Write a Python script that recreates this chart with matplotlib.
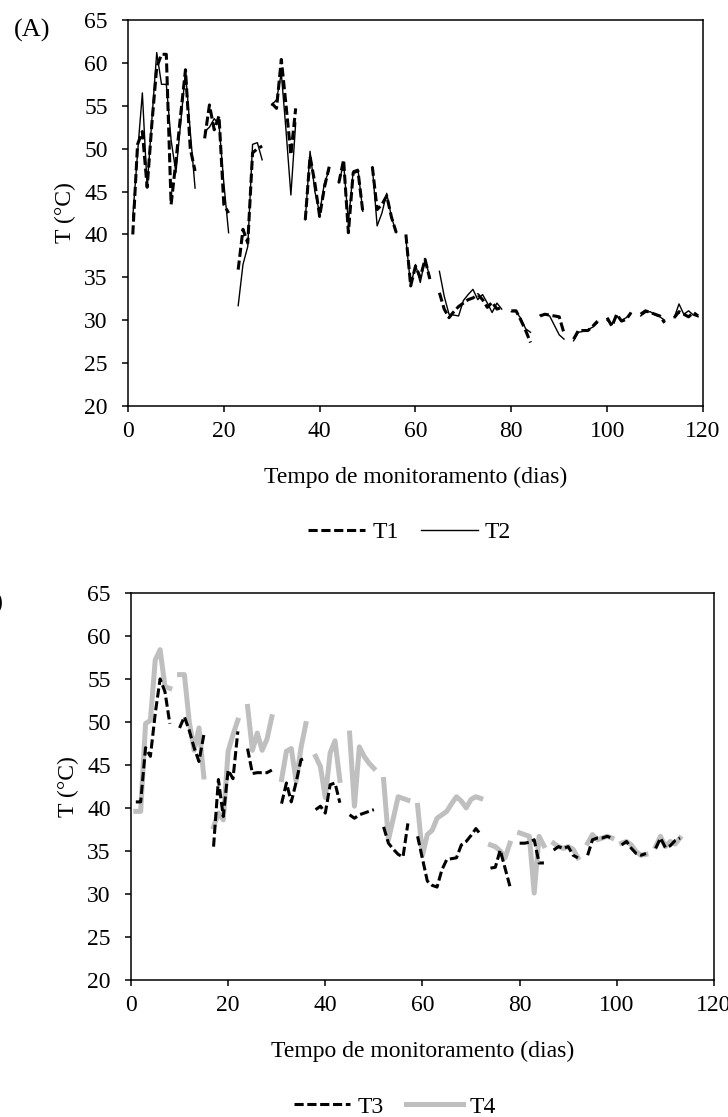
import numpy as np
import matplotlib
matplotlib.use("Agg")
import matplotlib.pyplot as plt

nan = np.nan

# Panel A - daily readings, days 1..119 (nan = no reading)
days_a = list(range(1, 120))
t1 = [40.0, 50.5, 52.0, 45.5, 53.0, 59.5, 61.0, 61.0, 43.5, 48.5, 54.0, 59.2, 50.0, 47.4, nan,
      51.2, 55.1, 52.2, 53.8, 43.5, 42.5, nan,
      35.9, 40.6, 39.0, 49.5, 50.0, 50.3, nan,
      55.3, 54.7, 60.4, 55.0, 49.3, 54.7, nan,
      41.7, 49.1, 46.0, 42.1, 45.5, 47.9, nan,
      46.0, 48.7, 40.2, 47.2, 47.4, 42.7, nan,
      47.9, 42.9, 43.5, 44.5, 42.0, 40.2, nan,
      40.0, 34.0, 36.3, 35.0, 37.1, 34.8, nan,
      33.2, 31.3, 30.3, 31.0, 31.6, 32.0, 32.4, 32.6, 33.0, 32.4, 31.5, 32.1, 31.3, 31.5, nan,
      31.1, 31.1, 30.0, 28.8, 27.4, nan,
      30.5, 30.7, 30.6, 30.5, 30.4, 28.5, nan,
      27.8, 28.8, 28.8, 28.8, 29.3, 29.9, nan,
      30.3, 29.3, 30.7, 29.9, 30.1, 30.9, nan,
      30.7, 31.1, 30.9, 30.7, 30.5, 29.7, nan,
      30.3, 31.0, 30.7, 30.4, 30.9, 30.5]
t2 = [42.0, 49.5, 56.5, 45.5, 53.5, 61.2, 57.5, 57.5, 51.0, 47.2, 53.0, 59.0, 52.0, 45.4, nan,
      52.0, 52.5, 53.5, 52.8, 46.0, 40.2, nan,
      31.7, 36.5, 38.6, 50.5, 50.7, 48.7, nan,
      55.1, 55.7, 58.8, 52.0, 44.6, 53.0, nan,
      41.7, 49.7, 45.0, 42.5, 46.0, 47.5, nan,
      46.0, 48.3, 41.4, 47.4, 47.6, 42.7, nan,
      47.9, 41.0, 42.5, 44.8, 42.0, 40.2, nan,
      39.5, 34.0, 36.5, 34.4, 37.1, 35.0, nan,
      35.7, 32.8, 30.7, 30.6, 30.5, 32.3, 33.0, 33.6, 32.4, 33.0, 32.0, 30.9, 32.0, 31.3, nan,
      31.0, 31.0, 30.2, 29.0, 28.6, nan,
      30.6, 30.7, 30.5, 29.4, 28.3, 27.8, nan,
      27.6, 28.6, 28.7, 28.9, 29.2, 29.7, nan,
      30.0, 29.5, 30.5, 30.0, 30.3, 30.8, nan,
      30.5, 30.9, 31.0, 30.6, 30.4, 30.0, nan,
      30.3, 31.9, 30.7, 31.1, 30.6, 30.4]

# Panel B - daily readings, days 1..113
days_b = list(range(1, 114))
t3 = [40.7, 40.7, 47.0, 46.0, 51.0, 55.0, 53.5, 49.8, nan,
      49.3, 50.6, 49.0, 47.0, 45.4, 48.5, nan,
      35.5, 43.3, 39.0, 44.4, 43.4, 48.9, nan,
      46.9, 44.0, 44.1, 44.1, 44.1, 44.4, nan,
      40.5, 42.9, 40.7, 43.0, 45.6, 45.8, nan,
      39.8, 40.2, 39.4, 42.7, 42.9, 40.6, nan,
      39.2, 38.8, 39.2, 39.4, 39.6, 39.8, nan,
      37.8, 35.9, 35.2, 34.6, 34.3, 38.2, nan,
      36.7, 34.1, 31.5, 31.0, 30.8, 32.8, 34.0, 34.1, 34.2, 35.7, 36.1, 36.8, 37.6, 36.9, nan,
      33.0, 33.1, 35.1, 33.0, 30.9, nan,
      35.9, 35.9, 36.0, 36.3, 33.6, 33.6, nan,
      35.1, 35.5, 35.3, 35.5, 34.5, 34.2, nan,
      34.5, 36.3, 36.5, 36.5, 36.7, 36.5, nan,
      35.7, 36.1, 35.3, 34.7, 34.5, 34.7, nan,
      35.3, 36.5, 35.4, 35.6, 36.2, 36.5]
t4 = [39.6, 39.6, 49.8, 50.2, 57.2, 58.4, 54.1, 53.9, nan,
      55.5, 55.5, 50.0, 46.7, 49.3, 43.6, nan,
      37.8, 39.4, 38.6, 46.6, 48.5, 50.2, nan,
      51.8, 46.7, 48.7, 46.7, 48.0, 50.6, nan,
      43.3, 46.6, 46.9, 43.1, 47.0, 49.8, nan,
      46.0, 44.8, 41.2, 46.4, 47.8, 43.2, nan,
      48.7, 40.2, 47.1, 46.0, 45.2, 44.6, nan,
      43.3, 36.3, 38.8, 41.3, 41.1, 40.9, nan,
      40.3, 34.5, 36.9, 37.4, 38.8, 39.2, 39.6, 40.5, 41.3, 40.8, 40.0, 41.0, 41.3, 41.1, nan,
      35.7, 35.5, 35.0, 34.2, 35.9, nan,
      37.1, 36.9, 36.7, 30.1, 36.7, 35.6, nan,
      35.9, 35.5, 35.3, 35.5, 35.2, 34.2, nan,
      35.9, 36.9, 36.3, 36.5, 36.7, 36.5, nan,
      35.9, 36.1, 35.7, 34.9, 34.5, 34.6, nan,
      35.5, 36.7, 35.5, 36.1, 35.8, 36.5]

xticks = [0, 20, 40, 60, 80, 100, 120]
yticks = [20, 25, 30, 35, 40, 45, 50, 55, 60, 65]
xlabel = "Tempo de monitoramento (dias)"
ylabel = "T (°C)"

plt.rcParams['font.family'] = ['Liberation Serif', 'DejaVu Serif']
plt.rcParams['font.size'] = 17


def style_axes(ax):
    ax.set_xlim(0, 120)
    ax.set_ylim(20, 65)
    ax.set_xticks(xticks)
    ax.set_yticks(yticks)
    ax.tick_params(direction='out', length=4.5, width=1.1, labelsize=17)
    ax.tick_params(axis='y', pad=10)
    ax.tick_params(axis='x', pad=6)
    for s in ax.spines.values():
        s.set_linewidth(1.1)
    ax.set_xlabel(xlabel, fontsize=17, labelpad=18)
    ax.set_ylabel(ylabel, fontsize=17, labelpad=6)


def add_legend(ax, xc):
    h, l = ax.get_legend_handles_labels()
    ax.legend(h[::-1], l[::-1], ncol=2, frameon=False, loc='center',
              bbox_to_anchor=(xc, -0.328), handlelength=2.4,
              handletextpad=0.3, columnspacing=0.95, fontsize=17)


def main():
    fig = plt.figure(figsize=(7.28, 11.17), dpi=100)

    ax_a = fig.add_axes([0.1758, 0.6365, 0.7898, 0.3456])
    ax_a.plot(days_a, t2, color='black', linewidth=1.0, label='T2', zorder=2)
    ax_a.plot(days_a, t1, color='black', linewidth=2.2, dashes=(3, 1.2),
              label='T1', zorder=3)
    style_axes(ax_a)
    add_legend(ax_a, 0.49)

    ax_b = fig.add_axes([0.1799, 0.1227, 0.8008, 0.3465])
    ax_b.plot(days_b, t4, color='#bfbfbf', linewidth=3.6, label='T4', zorder=2)
    ax_b.plot(days_b, t3, color='black', linewidth=2.2, dashes=(3, 1.2),
              label='T3', zorder=3)
    style_axes(ax_b)
    add_legend(ax_b, 0.453)

    fig.text(32 / 728, 1 - 30 / 1117, "(A)", fontsize=19, ha='center', va='center')
    fig.text(-14 / 728, 1 - 603 / 1117, "(B)", fontsize=19, ha='center', va='center')

    fig.savefig("out.png", dpi=100)


if __name__ == "__main__":
    main()
